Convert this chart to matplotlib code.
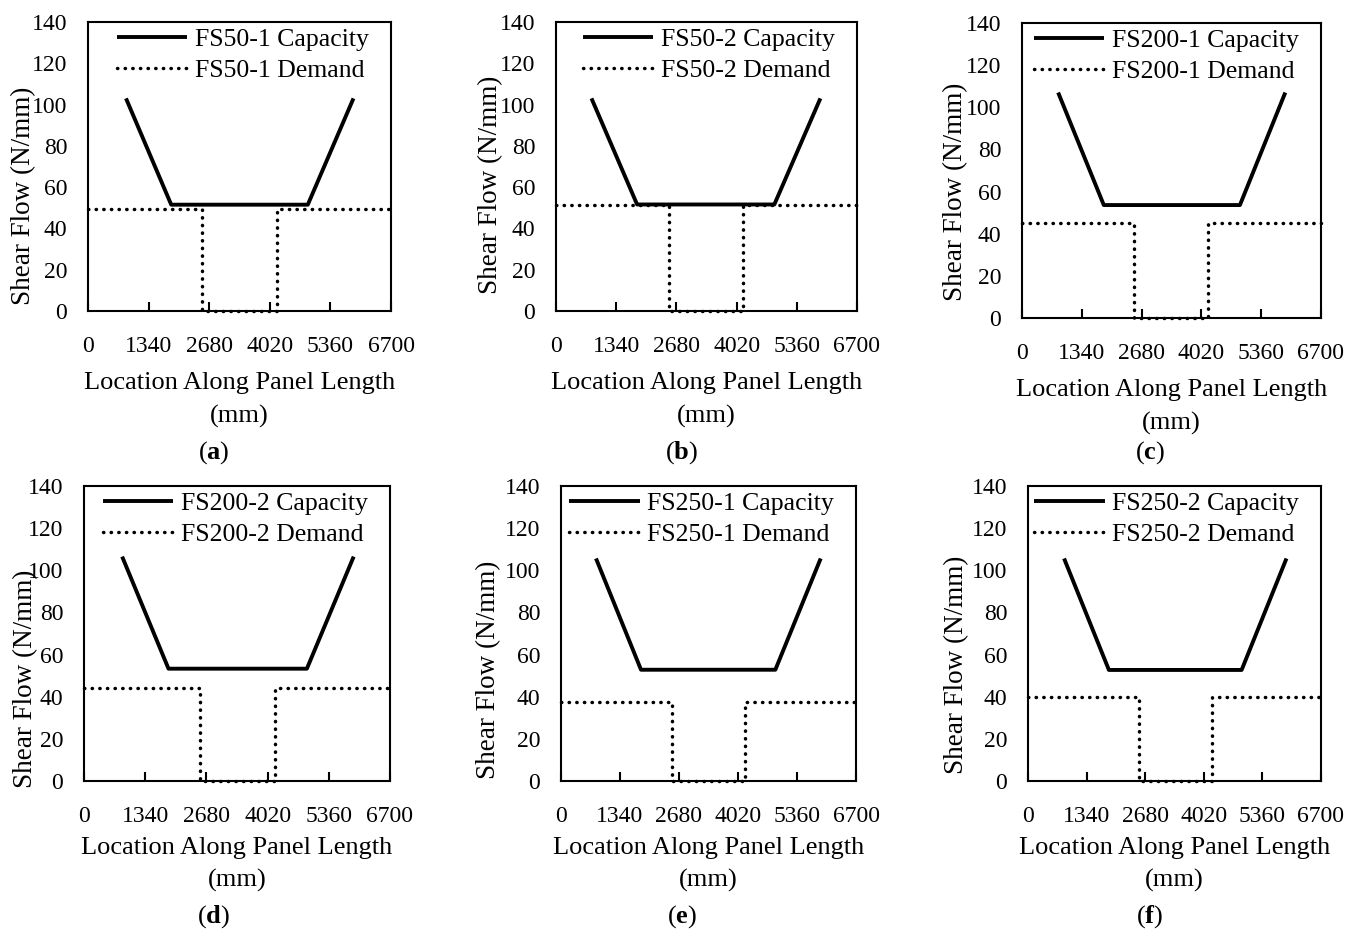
import matplotlib
matplotlib.use("Agg")
import matplotlib.pyplot as plt

plt.rcParams['font.family'] = ['Liberation Serif', 'DejaVu Serif']
plt.rcParams['mathtext.fontset'] = 'custom'
plt.rcParams['mathtext.rm'] = 'Liberation Serif'
plt.rcParams['mathtext.bf'] = 'Liberation Serif:bold'

# panel names
specimens = ['FS50-1', 'FS50-2', 'FS200-1', 'FS200-2', 'FS250-1', 'FS250-2']
panel_tags = ['a', 'b', 'c', 'd', 'e', 'f']

# capacity: location (mm) and shear flow (N/mm)
cap_x = [
    [840, 1840, 4860, 5870],
    [790, 1805, 4860, 5885],
    [810, 1833, 4883, 5900],
    [835, 1850, 4880, 5905],
    [795, 1817, 4868, 5898],
    [825, 1850, 4885, 5910],
]
cap_y = [
    [103.0, 51.5, 51.5, 103.0],
    [103.0, 51.6, 51.6, 103.0],
    [107.0, 53.6, 53.6, 107.0],
    [106.5, 53.3, 53.3, 106.5],
    [105.6, 52.8, 52.8, 105.6],
    [105.6, 52.7, 52.7, 105.6],
]

# demand: plateau level and where it drops to zero / comes back
dem_level = [49.6, 51.3, 45.2, 44.3, 37.3, 39.8]
dem_drop = [2530, 2520, 2520, 2545, 2513, 2540]
dem_rise = [4175, 4160, 4172, 4190, 4179, 4200]
panel_len = 6700

x_ticks = [0, 1340, 2680, 4020, 5360, 6700]
y_ticks = [0, 20, 40, 60, 80, 100, 120, 140]

W, H = 1358, 932
# axes boxes in pixels: left, right, top, bottom
boxes = [
    (88, 391, 22, 311),
    (556, 857, 22, 311),
    (1022, 1321, 23, 318),
    (84, 390, 486, 781),
    (561, 856, 486, 781),
    (1028, 1321, 486, 781),
]
# y-label centre: px left of the axes, fraction of axes height
ylab_dx = [64, 65, 66, 58, 72, 71]
ylab_fy = [0.40, 0.436, 0.427, 0.346, 0.378, 0.393]
xlab_pad = [11, 11, 11, 7, 7, 7]
tag_x = [214, 682, 1150, 214, 682, 1150]

fig = plt.figure(figsize=(W / 100, H / 100), dpi=100)

for i in range(6):
    l, r, t, b = boxes[i]
    ax = fig.add_axes([l / W, 1 - b / H, (r - l) / W, (b - t) / H])

    dx = [0, dem_drop[i], dem_drop[i], dem_rise[i], dem_rise[i], panel_len]
    dy = [dem_level[i], dem_level[i], 0, 0, dem_level[i], dem_level[i]]

    ax.plot(cap_x[i], cap_y[i], color='black', lw=2.8,
            label=f'{specimens[i]} Capacity', solid_capstyle='butt')
    ax.plot(dx, dy, color='black', lw=2.5, linestyle=(0, (0.1, 2.1)),
            dash_capstyle='round', clip_on=False,
            label=f'{specimens[i]} Demand')

    ax.set_xlim(0, panel_len)
    ax.set_ylim(0, 140)
    ax.set_xticks(x_ticks)
    ax.set_yticks(y_ticks)
    ax.tick_params(axis='x', direction='in', length=6.5, width=1.5,
                   pad=18, labelsize=17)
    ax.tick_params(axis='y', length=0, pad=15, labelsize=17)
    for s in ax.spines.values():
        s.set_linewidth(1.5)

    ax.set_ylabel('Shear Flow (N/mm)', fontsize=19.5)
    ax.yaxis.label.set_va('center')
    ax.yaxis.set_label_coords(-ylab_dx[i] / (r - l), ylab_fy[i])
    ax.set_xlabel('Location Along Panel Length\n(mm)', fontsize=19,
                  labelpad=xlab_pad[i], linespacing=1.6)

    ax.legend(loc='upper right',
              bbox_to_anchor=(1 - 22 / (r - l), 1 - 6 / (b - t)),
              frameon=False, fontsize=18.5,
              handlelength=2.75, handletextpad=0.3, labelspacing=0.32,
              borderaxespad=0.0, borderpad=0.0)

    fig.text(tag_x[i] / W, 1 - (453 if i < 3 else 917) / H,
             r'($\mathbf{' + panel_tags[i] + r'}$)',
             ha='center', va='center', fontsize=19)

fig.savefig('out.png', dpi=100)
